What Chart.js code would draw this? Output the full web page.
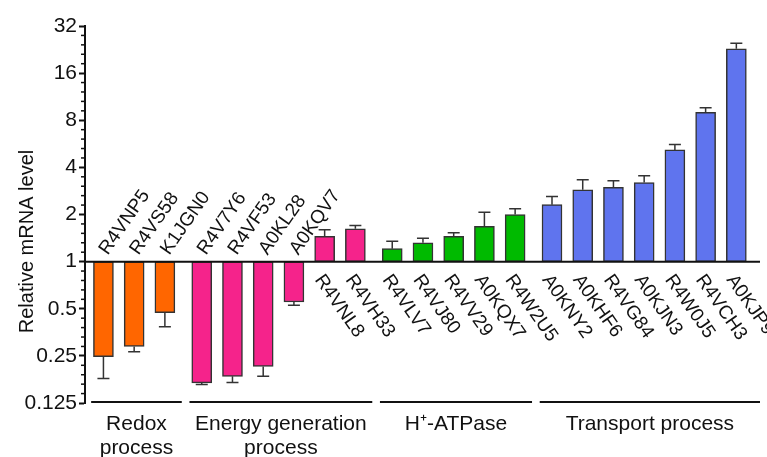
<!DOCTYPE html>
<html lang="en">
<head>
<meta charset="UTF-8">
<title>Relative mRNA level</title>
<script src="https://cdn.jsdelivr.net/npm/chart.js"></script>
<style>
  body { margin: 0; background: #fff; }
  #wrap { width: 767px; height: 457px; }
</style>
</head>
<body>
<div id="wrap"><canvas id="mrnaChart"></canvas></div>
<script>
// genes, in plotting order
const genes = ['R4VNP5', 'R4VS58', 'K1JGN0',
               'R4V7Y6', 'R4VF53', 'A0KL28', 'A0KQV7', 'R4VNL8', 'R4VH33',
               'R4VLV7', 'R4VJ80', 'R4VV29', 'A0KQX7', 'R4W2U5',
               'A0KNY2', 'A0KHF6', 'R4VG84', 'A0KJN3', 'R4W0J5', 'R4VCH3', 'A0KJP9'];
// which process each gene belongs to
const groupOf = [0, 0, 0, 1, 1, 1, 1, 1, 1, 2, 2, 2, 2, 2, 3, 3, 3, 3, 3, 3, 3];
const groupNames = [['Redox', 'process'], ['Energy generation', 'process'], ['H\u207A-ATPase'], ['Transport process']];
const groupColors = ['#FF6600', '#F5238B', '#00BA00', '#5F74EE'];

// relative mRNA level (mean) and end of the error bar
const values   = [0.247, 0.287, 0.472, 0.168, 0.185, 0.214, 0.552, 1.45, 1.62,
                  1.21, 1.32, 1.45, 1.68, 2.00, 2.31, 2.88, 2.98, 3.20, 5.17, 9.0, 22.9];
const errLimit = [0.179, 0.266, 0.384, 0.164, 0.169, 0.185, 0.526, 1.60, 1.70,
                  1.35, 1.41, 1.53, 2.07, 2.18, 2.61, 3.34, 3.29, 3.53, 5.59, 9.6, 24.8];

const yTicks = [0.125, 0.25, 0.5, 1, 2, 4, 8, 16, 32];

// bar slots, with a small gap between the process groups
const positions = genes.map((g, i) => i + 0.2 * groupOf[i]);

const FONT = '"Liberation Sans", Arial, sans-serif';
Chart.defaults.font.family = FONT;
Chart.defaults.color = '#111';

const extras = {
    id: 'extras',
    afterDatasetsDraw(chart) {
        const { ctx, chartArea: area, scales: { x, y } } = chart;
        const y1 = y.getPixelForValue(1);
        ctx.save();

        // error bars, only away from the baseline
        ctx.strokeStyle = '#333';
        ctx.lineWidth = 1.5;
        positions.forEach((p, i) => {
            const px = x.getPixelForValue(p);
            const yEnd = y.getPixelForValue(values[i]);
            const yErr = y.getPixelForValue(errLimit[i]);
            ctx.beginPath();
            ctx.moveTo(px, yEnd);
            ctx.lineTo(px, yErr);
            ctx.moveTo(px - 6, yErr);
            ctx.lineTo(px + 6, yErr);
            ctx.stroke();
        });

        // baseline at 1
        ctx.strokeStyle = '#111';
        ctx.lineWidth = 2;
        ctx.beginPath();
        ctx.moveTo(area.left, y1);
        ctx.lineTo(area.right, y1);
        ctx.stroke();

        // minor ticks on the y axis
        ctx.lineWidth = 1.5;
        for (let k = -3; k < 5; k++) {
            for (let j = 1; j < 5; j++) {
                const py = y.getPixelForValue(Math.pow(2, k + j / 5));
                ctx.beginPath();
                ctx.moveTo(area.left - 4, py);
                ctx.lineTo(area.left, py);
                ctx.stroke();
            }
        }

        // gene labels next to the baseline
        const angle = 55 * Math.PI / 180;
        ctx.fillStyle = '#111';
        ctx.font = '19px ' + FONT;
        ctx.textAlign = 'left';
        ctx.textBaseline = 'middle';
        genes.forEach((g, i) => {
            const px = x.getPixelForValue(positions[i]);
            ctx.save();
            if (values[i] < 1) {
                ctx.translate(px, y1 - 9);
                ctx.rotate(-angle);
            } else {
                ctx.translate(px - 6, y1 + 15);
                ctx.rotate(angle);
            }
            ctx.fillText(g, 0, 0);
            ctx.restore();
        });

        // process brackets and names
        ctx.font = '21px ' + FONT;
        ctx.textAlign = 'center';
        groupNames.forEach((lines, gi) => {
            const idx = groupOf.map((g, i) => (g === gi ? i : -1)).filter(i => i >= 0);
            const x0 = x.getPixelForValue(positions[idx[0]] - 0.4);
            const x1 = gi === groupNames.length - 1
                ? area.right
                : x.getPixelForValue(positions[idx[idx.length - 1]] + 0.55);
            ctx.lineWidth = 2;
            ctx.beginPath();
            ctx.moveTo(x0, area.bottom - 1);
            ctx.lineTo(x1, area.bottom - 1);
            ctx.stroke();
            lines.forEach((t, li) => ctx.fillText(t, (x0 + x1) / 2, area.bottom + 21 + li * 24));
        });

        // y axis title
        ctx.font = '20px ' + FONT;
        ctx.save();
        ctx.translate(27, (area.top + area.bottom) / 2 + 27);
        ctx.rotate(-Math.PI / 2);
        ctx.fillText('Relative mRNA level', 0, 0);
        ctx.restore();

        ctx.restore();
    }
};

new Chart(document.getElementById('mrnaChart'), {
    type: 'bar',
    data: {
        datasets: [{
            data: positions.map((p, i) => ({ x: p, y: [1, values[i]] })),
            backgroundColor: groupOf.map(g => groupColors[g]),
            borderColor: '#333',
            borderWidth: 1.5,
            borderSkipped: false,
            barThickness: 20
        }]
    },
    options: {
        responsive: true,
        maintainAspectRatio: false,
        animation: false,
        layout: { padding: { top: 26, right: 7, bottom: 54, left: 0 } },
        plugins: { legend: { display: false }, tooltip: { enabled: false } },
        scales: {
            x: { type: 'linear', min: -0.6, max: 21.37, offset: false, display: false },
            y: {
                type: 'logarithmic',
                min: 0.125,
                max: 32,
                afterFit(s) { s.width = 85; },
                afterBuildTicks(s) { s.ticks = yTicks.map(v => ({ value: v })); },
                ticks: {
                    callback: v => String(v),
                    font: { size: 21 },
                    color: '#111',
                    padding: 2
                },
                grid: { drawOnChartArea: false, tickLength: 6, tickWidth: 2, color: '#111' },
                border: { display: true, width: 2, color: '#111' }
            }
        }
    },
    plugins: [extras]
});
</script>
</body>
</html>
